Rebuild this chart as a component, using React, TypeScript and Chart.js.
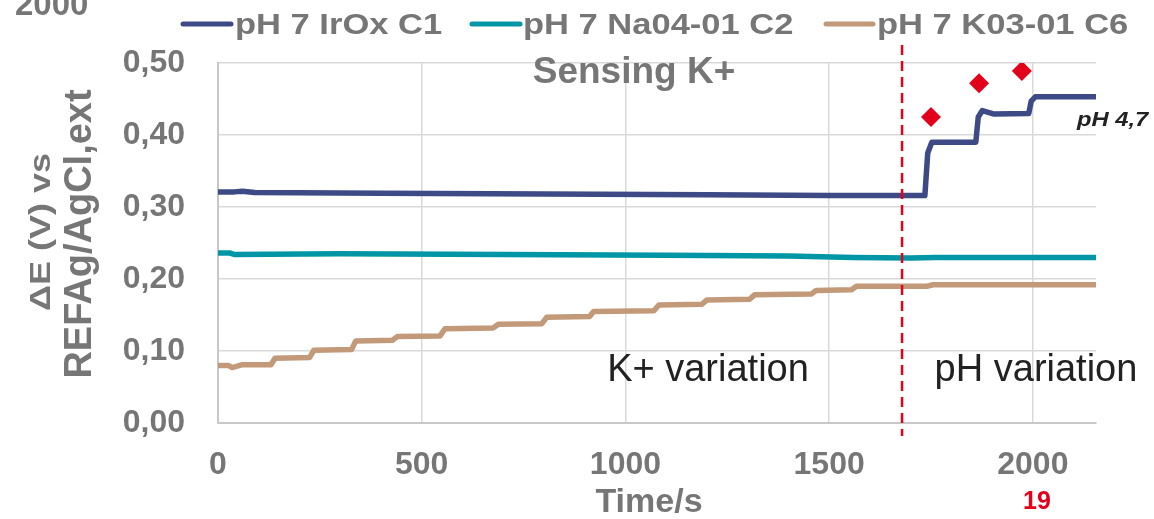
import React, { useEffect, useRef } from 'react';
import { Chart, registerables } from 'chart.js';

Chart.register(...registerables);

// ---- data (time in s, potential in V) ----
const irOxTime = [0, 40, 60, 90, 400, 800, 1200, 1500, 1735, 1742, 1752, 1860, 1866, 1876, 1905, 1990, 1996, 2006, 2155];
const irOxE = [0.321, 0.321, 0.322, 0.320, 0.319, 0.318, 0.317, 0.316, 0.316, 0.375, 0.390, 0.390, 0.425, 0.434, 0.429, 0.430, 0.447, 0.453, 0.453];

const na04Time = [0, 30, 40, 300, 700, 1100, 1400, 1560, 1700, 1760, 2155];
const na04E = [0.236, 0.236, 0.234, 0.235, 0.234, 0.233, 0.232, 0.230, 0.229, 0.230, 0.230];

const k03Time = [0, 25, 35, 60, 130, 140, 225, 235, 328, 338, 428, 440, 545, 557, 675, 688, 795, 807, 912, 922, 1070, 1082, 1188, 1200, 1305, 1317, 1456, 1468, 1555, 1567, 1740, 1755, 2155];
const k03E = [0.080, 0.080, 0.077, 0.081, 0.081, 0.090, 0.091, 0.101, 0.102, 0.114, 0.115, 0.120, 0.121, 0.131, 0.132, 0.137, 0.138, 0.147, 0.148, 0.155, 0.156, 0.164, 0.165, 0.171, 0.172, 0.178, 0.179, 0.184, 0.185, 0.190, 0.190, 0.192, 0.192];

const markerTime = [1750, 1868, 1973];
const markerE = [0.425, 0.472, 0.489];

const phSwitchTime = 1679;

const seriesLabels = ['pH 7 IrOx C1', 'pH 7 Na04-01 C2', 'pH 7 K03-01 C6'];
const seriesColors = ['#3d4a85', '#0096a6', '#c29a7a'];

const xTickValues = [0, 500, 1000, 1500, 2000];
const yTickValues = [0, 0.1, 0.2, 0.3, 0.4, 0.5];
const xMin = 0;
const xMax = 2155;
const yMin = 0;
const yMax = 0.5;

const FONT = '"Liberation Sans", Arial, sans-serif';
const GRAY = '#767676';
const DARK = '#222222';
const RED = '#e2001a';

function pts(xs: number[], ys: number[]) {
  return xs.map((x, i) => ({ x, y: ys[i] }));
}

function drawText(
  ctx: CanvasRenderingContext2D,
  text: string,
  x: number,
  y: number,
  font: string,
  color: string,
  align: CanvasTextAlign = 'center',
  sx = 1,
  rot = 0,
  baseline: CanvasTextBaseline = 'middle'
) {
  ctx.save();
  ctx.translate(x, y);
  if (rot) ctx.rotate(rot);
  ctx.scale(sx, 1);
  ctx.font = font;
  ctx.fillStyle = color;
  ctx.textAlign = align;
  ctx.textBaseline = baseline;
  ctx.fillText(text, 0, 0);
  ctx.restore();
}

const annotations = {
  id: 'annotations',
  afterDatasetsDraw(chart: any) {
    const { ctx, chartArea, scales } = chart;
    const x = scales.x.getPixelForValue(phSwitchTime);
    ctx.save();
    ctx.strokeStyle = RED;
    ctx.lineWidth = 2.5;
    ctx.setLineDash([10, 6]);
    ctx.beginPath();
    ctx.moveTo(x, chartArea.top - 18);
    ctx.lineTo(x, chartArea.bottom + 13);
    ctx.stroke();
    ctx.restore();
  },
  afterDraw(chart: any) {
    const ctx: CanvasRenderingContext2D = chart.ctx;
    // cut-off label at top-left
    drawText(ctx, '2000', 15, 15, `bold 33px ${FONT}`, GRAY, 'left', 1, 0, 'alphabetic');

    // legend
    const legendY = 25;
    const samples = [
      [183, 231, 235],
      [472, 520, 523],
      [826, 873, 877],
    ];
    samples.forEach((s, i) => {
      ctx.save();
      ctx.strokeStyle = seriesColors[i];
      ctx.lineWidth = 5;
      ctx.lineCap = 'round';
      ctx.beginPath();
      ctx.moveTo(s[0], legendY - 1);
      ctx.lineTo(s[1], legendY - 1);
      ctx.stroke();
      ctx.restore();
      drawText(ctx, seriesLabels[i], s[2], legendY + 1, `bold 29px ${FONT}`, GRAY, 'left', 1.19);
    });

    // axis titles
    drawText(ctx, 'ΔE (V) vs', 42, 232, `bold 30px ${FONT}`, GRAY, 'center', 1.2, -Math.PI / 2);
    drawText(ctx, 'REFAg/AgCl,ext', 81, 234, `bold 38px ${FONT}`, GRAY, 'center', 1, -Math.PI / 2);
    drawText(ctx, 'Time/s', 649, 503, `bold 34px ${FONT}`, GRAY, 'center');

    // annotations
    drawText(ctx, 'Sensing K+', 634, 73, `bold 37px ${FONT}`, GRAY, 'center');
    drawText(ctx, 'K+ variation', 708, 371, `38px ${FONT}`, DARK, 'center');
    drawText(ctx, 'pH variation', 1036, 371, `38px ${FONT}`, DARK, 'center');
    drawText(ctx, 'pH 4,7', 1077, 120, `italic bold 21px ${FONT}`, DARK, 'left', 1.13);
    drawText(ctx, '19', 1037, 502, `bold 25px ${FONT}`, RED, 'center');
  },
};

export default function App() {
  const ref = useRef<HTMLCanvasElement>(null);

  useEffect(() => {
    if (!ref.current) return;
    const tickFont = { family: FONT, size: 32, weight: 'bold' as const };
    const lineDs = (i: number, xs: number[], ys: number[]) => ({
      type: 'line' as const,
      label: seriesLabels[i],
      data: pts(xs, ys),
      borderColor: seriesColors[i],
      backgroundColor: seriesColors[i],
      borderWidth: 5.5,
      pointRadius: 0,
      tension: 0,
      borderJoinStyle: 'round' as const,
      borderCapStyle: 'round' as const,
      fill: false,
    });
    const chart = new Chart(ref.current, {
      type: 'line',
      data: {
        datasets: [
          {
            type: 'scatter' as const,
            label: 'markers',
            data: pts(markerTime, markerE),
            pointStyle: 'rectRot',
            pointRadius: 10,
            pointBackgroundColor: RED,
            pointBorderWidth: 0,
            showLine: false,
          } as any,
          lineDs(0, irOxTime, irOxE),
          lineDs(1, na04Time, na04E),
          lineDs(2, k03Time, k03E),
        ],
      },
      options: {
        responsive: false,
        devicePixelRatio: 1,
        animation: false,
        events: [],
        layout: { padding: { top: 63, right: 58, left: 0, bottom: 0 } },
        plugins: {
          legend: { display: false },
          tooltip: { enabled: false },
          title: { display: false },
        },
        scales: {
          x: {
            type: 'linear',
            min: xMin,
            max: xMax,
            afterBuildTicks: (s: any) => {
              s.ticks = xTickValues.map((v) => ({ value: v }));
            },
            ticks: {
              font: tickFont,
              color: GRAY,
              padding: 23,
              maxRotation: 0,
              autoSkip: false,
              callback: (v: any) => String(v),
            },
            grid: { color: '#d9d9d9', lineWidth: 1.5, drawTicks: false },
            border: { color: '#c8c8c8', width: 2 },
            afterFit: (s: any) => {
              s.height = 96;
            },
          },
          y: {
            type: 'linear',
            min: yMin,
            max: yMax,
            afterBuildTicks: (s: any) => {
              s.ticks = yTickValues.map((v) => ({ value: v }));
            },
            ticks: {
              font: tickFont,
              color: GRAY,
              padding: 33,
              autoSkip: false,
              callback: (v: any) => Number(v).toFixed(2).replace('.', ','),
            },
            grid: { color: '#d9d9d9', lineWidth: 1.5, drawTicks: false },
            border: { color: '#c8c8c8', width: 2 },
            afterFit: (s: any) => {
              s.width = 218;
            },
          },
        },
      } as any,
      plugins: [annotations],
    });
    return () => chart.destroy();
  }, []);

  return (
    <canvas
      ref={ref}
      width={1154}
      height={519}
      style={{ position: 'fixed', left: 0, top: 0, width: 1154, height: 519, background: '#ffffff' }}
    />
  );
}
